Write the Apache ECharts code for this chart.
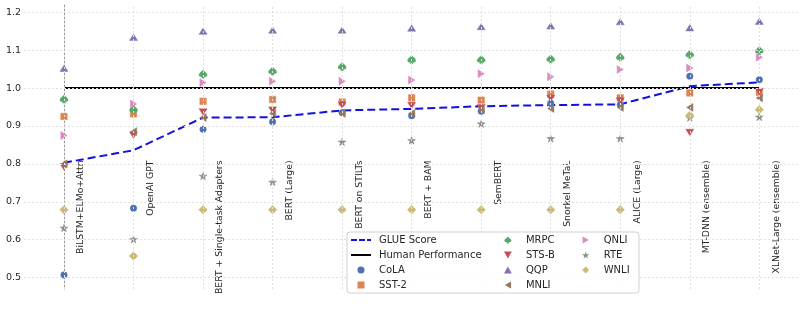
<!DOCTYPE html>
<html>
<head>
<meta charset="utf-8">
<script src="https://cdn.jsdelivr.net/npm/echarts@6/dist/echarts.min.js"></script>
<style>
  html, body { margin: 0; padding: 0; background: #fff; }
  #chart { width: 806px; height: 322px; }
</style>
</head>
<body>
<div id="chart"></div>
<script>
// models, left to right
var categories = ['BiLSTM+ELMo+Attn', 'OpenAI GPT', 'BERT + Single-task Adapters', 'BERT (Large)',
  'BERT on STILTs', 'BERT + BAM', 'SemBERT', 'Snorkel MeTaL', 'ALICE (Large)',
  'MT-DNN (ensemble)', 'XLNet-Large (ensemble)'];

// scores relative to human baseline
var glue  = [0.803, 0.836, 0.922, 0.923, 0.941, 0.945, 0.952, 0.955, 0.957, 1.005, 1.015];
var human = [1, 1, 1, 1, 1, 1, 1, 1, 1, 1, 1];
var cola  = [0.507, 0.683, 0.891, 0.911, 0.935, 0.927, 0.939, 0.960, 0.956, 1.031, 1.022];
var sst2  = [0.925, 0.932, 0.965, 0.970, 0.963, 0.974, 0.968, 0.984, 0.974, 0.987, 0.989];
var mrpc  = [0.971, 0.944, 1.037, 1.045, 1.057, 1.075, 1.075, 1.077, 1.082, 1.089, 1.099];
var stsb  = [0.792, 0.876, 0.937, 0.942, 0.955, 0.954, 0.948, 0.973, 0.966, 0.883, 0.991];
var qqp   = [1.052, 1.134, 1.150, 1.153, 1.153, 1.158, 1.162, 1.164, 1.175, 1.159, 1.176];
var mnli  = [0.800, 0.885, 0.922, 0.933, 0.933, 0.933, 0.943, 0.946, 0.949, 0.949, 0.974];
var qnli  = [0.875, 0.958, 1.014, 1.018, 1.018, 1.021, 1.038, 1.030, 1.049, 1.053, 1.081];
var rte   = [0.631, 0.601, 0.768, 0.752, 0.858, 0.862, 0.906, 0.867, 0.867, 0.922, 0.924];
var wnli  = [0.679, 0.557, 0.679, 0.679, 0.679, 0.679, 0.679, 0.679, 0.679, 0.928, 0.943];

var yTicks = [0.5, 0.6, 0.7, 0.8, 0.9, 1.0, 1.1, 1.2];
var labelAt = 0.809; // where the rotated model names hang from

// marker shapes
var SPADE = 'path://M50,0 C60,15 100,38 100,62 C100,80 80,88 60,78 L68,100 L32,100 L40,78 C20,88 0,80 0,62 C0,38 40,15 50,0 Z';
var CIRCLE = 'path://M50,0 A50,50 0 1,1 49.99,0 Z';
var SQUARE = 'path://M0,0 L100,0 L100,100 L0,100 Z';
var TRI_UP = 'path://M50,0 L100,90 L0,90 Z';
var TRI_DOWN = 'path://M0,0 L100,0 L50,90 Z';
var TRI_LEFT = 'path://M0,50 L90,0 L90,100 Z';
var TRI_RIGHT = 'path://M0,0 L90,50 L0,100 Z';
var STAR = 'path://M50,0 L61,35 L98,35 L68,57 L79,91 L50,70 L21,91 L32,57 L2,35 L39,35 Z';
var DIAMOND = 'path://M50,0 L100,50 L50,100 L0,50 Z';
var DASH_ICON = 'path://M0,0 H6 V2 H0 Z M8,0 H14 V2 H8 Z M16,0 H20 V2 H16 Z';
var LINE_ICON = 'path://M0,0 H20 V2 H0 Z';

function toXY(arr) {
  return arr.map(function (v, i) { return [i, v]; });
}

function scatter(name, arr, color, symbol, size) {
  return {
    name: name,
    type: 'scatter',
    data: toXY(arr),
    symbol: symbol,
    symbolSize: size,
    symbolKeepAspect: true,
    itemStyle: { color: color, opacity: 1, borderColor: color, borderWidth: 0.5 },
    emphasis: { disabled: true },
    z: 3
  };
}

var chart = echarts.init(document.getElementById('chart'), null, { renderer: 'canvas' });

var legendBase = {
  orient: 'vertical',
  top: 235,
  padding: 0,
  itemWidth: 20,
  itemHeight: 7,
  itemGap: 5,
  symbolKeepAspect: true,
  itemStyle: { borderWidth: 0 },
  z: 6,
  textStyle: { fontSize: 10, color: '#262626', fontFamily: 'DejaVu Sans', padding: [0, 0, 0, 3] }
};

var option = {
  animation: false,
  backgroundColor: '#fff',
  textStyle: { fontFamily: 'DejaVu Sans' },
  grid: { left: 24, right: 6, top: 5, bottom: 33 },
  xAxis: {
    type: 'value',
    min: -0.575,
    max: 10.585,
    axisLine: { show: false },
    axisTick: { show: false },
    axisLabel: { show: false },
    splitLine: { show: false }
  },
  yAxis: {
    type: 'value',
    min: 0.47,
    max: 1.219,
    axisLine: { show: true, lineStyle: { color: '#9a9a9a', width: 1 } },
    axisTick: { show: false },
    axisLabel: { show: false },
    splitLine: { show: false }
  },
  legend: [
    Object.assign({}, legendBase, { left: 351, data: [
      { name: 'GLUE Score', icon: DASH_ICON },
      { name: 'Human Performance', icon: LINE_ICON },
      { name: 'CoLA', icon: CIRCLE },
      { name: 'SST-2', icon: SQUARE }
    ] }),
    Object.assign({}, legendBase, { left: 504, data: [
      { name: 'MRPC', icon: SPADE },
      { name: 'STS-B', icon: TRI_DOWN },
      { name: 'QQP', icon: TRI_UP },
      { name: 'MNLI', icon: TRI_LEFT }
    ] }),
    Object.assign({}, legendBase, { left: 582, data: [
      { name: 'QNLI', icon: TRI_RIGHT },
      { name: 'RTE', icon: STAR },
      { name: 'WNLI', icon: DIAMOND }
    ] })
  ],
  series: [
    {
      // holder for the dotted grid lines
      name: 'grid',
      type: 'scatter',
      data: [],
      silent: true,
      z: 1,
      markLine: {
        silent: true,
        symbol: 'none',
        label: { show: false },
        lineStyle: { color: '#e0e0e0', type: [2, 2], width: 1 },
        data: categories.map(function (c, i) { return { xAxis: i }; })
          .concat(yTicks.map(function (t) { return { yAxis: t }; }))
      }
    },
    {
      name: 'GLUE Score',
      type: 'line',
      data: toXY(glue),
      symbol: 'none',
      lineStyle: { color: '#1212dd', width: 2, type: [8, 4] },
      itemStyle: { color: '#1212dd' },
      z: 2
    },
    {
      name: 'Human Performance',
      type: 'line',
      data: toXY(human),
      symbol: 'none',
      lineStyle: { color: '#000', width: 2 },
      itemStyle: { color: '#000' },
      z: 2
    },
    scatter('CoLA', cola, '#4C72B0', CIRCLE, 6.5),
    scatter('SST-2', sst2, '#DD8452', SQUARE, 6.5),
    scatter('MRPC', mrpc, '#55A868', SPADE, [8, 8]),
    scatter('STS-B', stsb, '#C44E52', TRI_DOWN, [8, 7]),
    scatter('QQP', qqp, '#8172B3', TRI_UP, [8, 7]),
    scatter('MNLI', mnli, '#937860', TRI_LEFT, [7, 8]),
    scatter('QNLI', qnli, '#DA8BC3', TRI_RIGHT, [7, 8]),
    scatter('RTE', rte, '#8C8C8C', STAR, 8),
    scatter('WNLI', wnli, '#CCB974', DIAMOND, 8.5)
  ]
};

chart.setOption(option);

// tick labels and rotated model names, placed through the axis scale
var texts = [];
yTicks.forEach(function (t) {
  var p = chart.convertToPixel({ gridIndex: 0 }, [-0.575, t]);
  texts.push({
    type: 'text',
    silent: true,
    x: p[0] - 3,
    y: p[1],
    style: {
      text: t.toFixed(1),
      align: 'right',
      verticalAlign: 'middle',
      fill: '#262626',
      font: '9.5px "DejaVu Sans"'
    }
  });
});
categories.forEach(function (c, i) {
  var p = chart.convertToPixel({ gridIndex: 0 }, [i, labelAt]);
  texts.push({
    type: 'text',
    silent: true,
    x: p[0] + 17,
    y: p[1],
    rotation: Math.PI / 2,
    z: 1,
    style: {
      text: c,
      align: 'right',
      verticalAlign: 'middle',
      fill: '#262626',
      font: '9.3px "DejaVu Sans"'
    }
  });
});
texts.push({
  type: 'rect',
  z: 5,
  silent: true,
  shape: { x: 347, y: 232, width: 292, height: 61, r: 3 },
  style: { fill: 'rgba(255,255,255,0.85)', stroke: '#d0d0d0', lineWidth: 1 }
});
chart.setOption({ graphic: texts });
</script>
</body>
</html>
